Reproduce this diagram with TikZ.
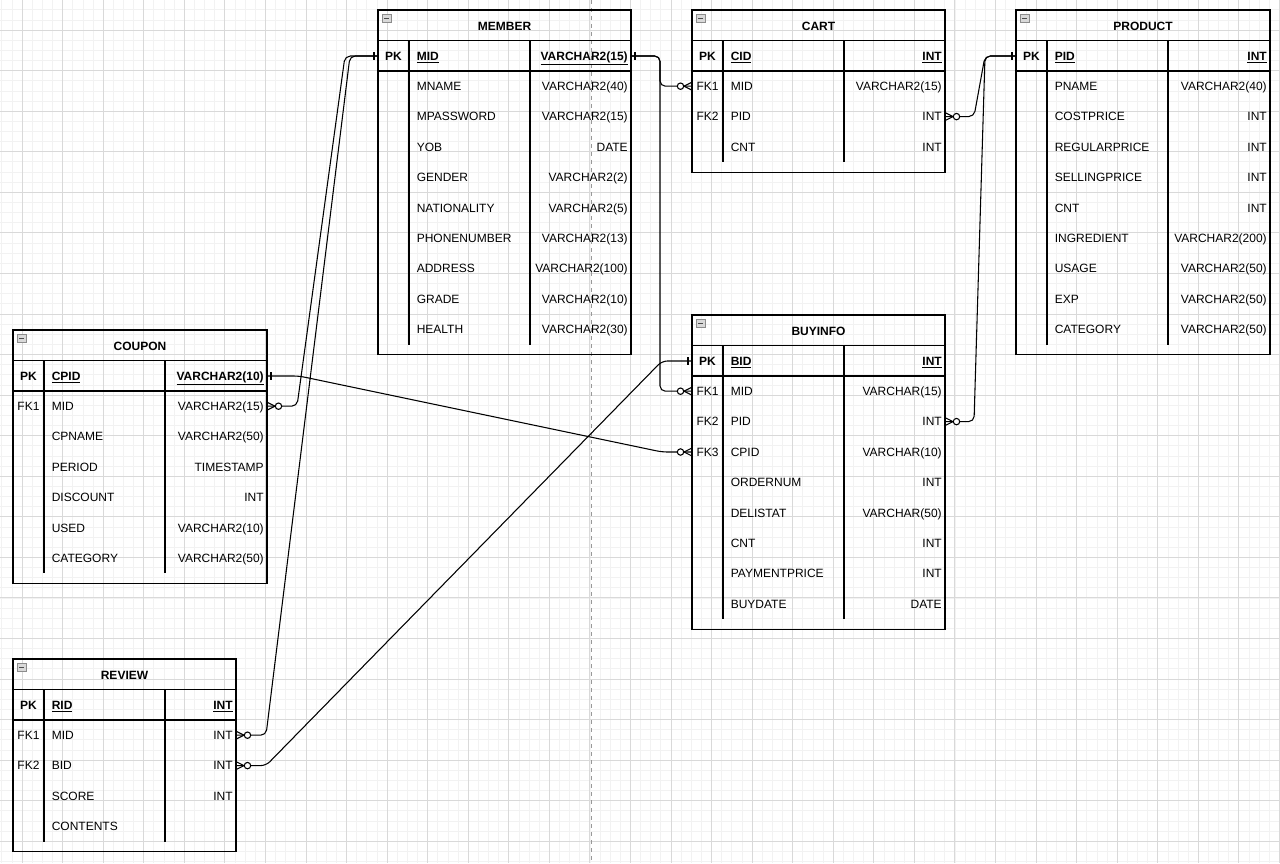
\documentclass[tikz,border=0pt]{standalone}
\usepackage{fontspec}
\setmainfont{Liberation Sans}
\usetikzlibrary{calc}

\tikzset{
  erbox/.style={draw=black, line width=1pt},
  erlink/.style={draw=black, line width=0.8pt, rounded corners=4pt},
  ertitle/.style={font=\fontsize{9}{11}\selectfont\bfseries, inner sep=0pt},
  ertext/.style={font=\fontsize{9}{11}\selectfont, inner sep=0pt},
  minorgrid/.style={draw=black!5, line width=0.5pt},
  majorgrid/.style={draw=black!15, line width=0.6pt},
  pageline/.style={draw=black!40, line width=0.6pt, dash pattern=on 3pt off 3pt},
}

% #1 name, #2 left, #3 top, #4 width, #5 title, #6 rows, #7 key name, #8 key type, #9 rows
\newcommand{\ertable}[9]{%
  \pgfmathsetmacro{\erend}{#3+61+30.4*#6}
  \draw[erbox] (#2,#3) rectangle ({#2+#4},{\erend+10});
  \draw[erbox] (#2,{#3+30.5}) -- ++(#4,0) (#2,{#3+61}) -- ++(#4,0);
  \draw[erbox] ({#2+31},{#3+30.5}) -- ({#2+31},\erend)
               ({#2+152},{#3+30.5}) -- ({#2+152},\erend);
  \draw[draw=black!45, fill=black!15, line width=0.4pt] ({#2+4},{#3+4}) rectangle ++(9,8);
  \draw[black!70, line width=0.6pt] ({#2+6},{#3+8}) -- ++(5,0);
  \node[ertitle] (#1) at ({#2+#4/2},{#3+16}) {#5};
  \node[ertitle, anchor=base] (#1-k0) at ({#2+15.5},{#3+50.3}) {PK};
  \node[ertitle, anchor=base west] (#1-n0) at ({#2+38.5},{#3+50.3}) {\underline{#7}};
  \node[ertitle, anchor=base east] (#1-t0) at ({#2+#4-3},{#3+50.3}) {\underline{#8}};
  \coordinate (#1-l0) at (#2,{#3+46});
  \coordinate (#1-r0) at ({#2+#4},{#3+46});
  \foreach \k/\n/\t [count=\i] in {#9} {
    \pgfmathsetmacro{\ery}{#3+61+30.4*(\i-0.5)}
    \node[ertext, anchor=base] (#1-k\i) at ({#2+15.5},{\ery+4.3}) {\k};
    \node[ertext, anchor=base west] (#1-n\i) at ({#2+38.5},{\ery+4.3}) {\n};
    \node[ertext, anchor=base east] (#1-t\i) at ({#2+#4-3},{\ery+4.3}) {\t};
    \coordinate (#1-l\i) at (#2,\ery);
    \coordinate (#1-r\i) at ({#2+#4},\ery);
  }
}

% one / zero-or-many ends, #2 = side the link leaves to
\newcommand{\erone}[2]{\draw[line width=0.8pt] ($(#1)+(#2*4,-4)$) -- ++(0,8);}
\newcommand{\ermany}[2]{%
  \draw[line width=0.8pt] ($(#1)+(#2*8,0)$) -- ($(#1)+(0,-4)$)
                          ($(#1)+(#2*8,0)$) -- ($(#1)+(0,4)$);
  \draw[line width=0.8pt, fill=white] ($(#1)+(#2*11.5,0)$) circle[radius=2.4pt];}

\begin{document}
\begin{tikzpicture}[x=0.75pt, y=-0.75pt]
  \useasboundingbox (0,0) rectangle (1280,863);
  \fill[white] (0,0) rectangle (1280,863);
  \begin{scope}
    \clip (0,0) rectangle (1280,863);
    \foreach \i in {-2,...,124} \draw[minorgrid] ({22+10.14*\i},0) -- ++(0,863);
    \foreach \i in {-2,...,82} \draw[minorgrid] (0,{30+10.14*\i}) -- ++(1280,0);
    \foreach \i in {0,...,31} \draw[majorgrid] ({22+40.56*\i},0) -- ++(0,863);
    \foreach \i in {0,...,21} \draw[majorgrid] (0,{30+40.56*\i}) -- ++(1280,0);
    \draw[pageline] (591,0) -- (591,863);
  \end{scope}

  \ertable{member}{378}{10}{253}{MEMBER}{9}{MID}{VARCHAR2(15)}{{}/MNAME/VARCHAR2(40), {}/MPASSWORD/VARCHAR2(15), {}/YOB/DATE, {}/GENDER/VARCHAR2(2), {}/NATIONALITY/VARCHAR2(5), {}/PHONENUMBER/VARCHAR2(13), {}/ADDRESS/VARCHAR2(100), {}/GRADE/VARCHAR2(10), {}/HEALTH/VARCHAR2(30)}
  \ertable{cart}{692}{10}{253}{CART}{3}{CID}{INT}{FK1/MID/VARCHAR2(15), FK2/PID/INT, {}/CNT/INT}
  \ertable{product}{1016}{10}{254}{PRODUCT}{9}{PID}{INT}{{}/PNAME/VARCHAR2(40), {}/COSTPRICE/INT, {}/REGULARPRICE/INT, {}/SELLINGPRICE/INT, {}/CNT/INT, {}/INGREDIENT/VARCHAR2(200), {}/USAGE/VARCHAR2(50), {}/EXP/VARCHAR2(50), {}/CATEGORY/VARCHAR2(50)}
  \ertable{buyinfo}{692}{315}{253}{BUYINFO}{8}{BID}{INT}{FK1/MID/VARCHAR(15), FK2/PID/INT, FK3/CPID/VARCHAR(10), {}/ORDERNUM/INT, {}/DELISTAT/VARCHAR(50), {}/CNT/INT, {}/PAYMENTPRICE/INT, {}/BUYDATE/DATE}
  \ertable{coupon}{13}{330}{254}{COUPON}{6}{CPID}{VARCHAR2(10)}{FK1/MID/VARCHAR2(15), {}/CPNAME/VARCHAR2(50), {}/PERIOD/TIMESTAMP, {}/DISCOUNT/INT, {}/USED/VARCHAR2(10), {}/CATEGORY/VARCHAR2(50)}
  \ertable{review}{13}{659}{223}{REVIEW}{4}{RID}{INT}{FK1/MID/INT, FK2/BID/INT, {}/SCORE/INT, {}/CONTENTS/{}}

  % links
  \draw[erlink] (member-r0) -- ++(29,0) |- (cart-l1);
  \draw[erlink] (member-r0) -- ++(29,0) |- (buyinfo-l1);
  \draw[erlink] (cart-r2) -- ++(29,0) -- ($(product-l0)+(-31,0)$) -- (product-l0);
  \draw[erlink] (buyinfo-r2) -- ++(29,0) -- ($(product-l0)+(-31,0)$) -- (product-l0);
  \draw[erlink] (coupon-r1) -- ++(30,0) -- ($(member-l0)+(-33,0)$) -- (member-l0);
  \draw[erlink] (review-r1) -- ++(30,0) -- ($(member-l0)+(-28,0)$) -- (member-l0);
  \draw[erlink] (coupon-r0) -- ++(32,0) -- ($(buyinfo-l3)+(-30,0)$) -- (buyinfo-l3);
  \draw[erlink] (review-r2) -- ++(30,0) -- ($(buyinfo-l0)+(-30,0)$) -- (buyinfo-l0);

  \erone{member-r0}{1} \ermany{cart-l1}{-1} \ermany{buyinfo-l1}{-1}
  \ermany{cart-r2}{1} \ermany{buyinfo-r2}{1} \erone{product-l0}{-1}
  \ermany{coupon-r1}{1} \ermany{review-r1}{1} \erone{member-l0}{-1}
  \erone{coupon-r0}{1} \ermany{buyinfo-l3}{-1}
  \ermany{review-r2}{1} \erone{buyinfo-l0}{-1}
\end{tikzpicture}
\end{document}
